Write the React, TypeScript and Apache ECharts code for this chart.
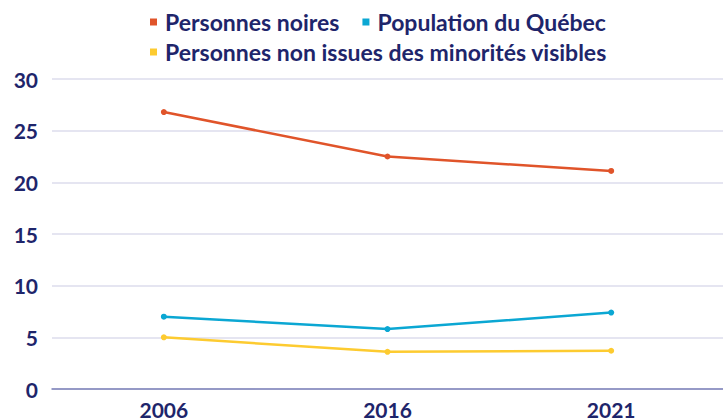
import React, { useEffect, useRef } from "react";
import * as echarts from "echarts";

const years = ["2006", "2016", "2021"];
const seriesNames = ["Personnes noires", "Population du Québec", "Personnes non issues des minorités visibles"];
const noires = [26.8, 22.5, 21.1];
const quebec = [7.0, 5.8, 7.4];
const nonMinorites = [5.0, 3.6, 3.7];
const colors = ["#E0542A", "#0BA7D3", "#FDCB30"];

const NAVY = "#1E256B";
const FONT = "Lato, 'Open Sans', sans-serif";

export default function App() {
  const ref = useRef<HTMLDivElement>(null);
  useEffect(() => {
    if (!ref.current) return;
    const chart = echarts.init(ref.current, undefined, { renderer: "svg" });
    const values = [noires, quebec, nonMinorites];
    chart.setOption({
      animation: false,
      color: colors,
      textStyle: { fontFamily: FONT },
      legend: {
        left: 150,
        top: 9,
        width: 480,
        padding: 0,
        itemWidth: 7,
        itemHeight: 7,
        itemGap: 4,
        icon: "rect",
        data: seriesNames,
        textStyle: {
          color: NAVY,
          fontSize: 23,
          fontWeight: "bold",
          fontFamily: FONT,
          lineHeight: 26,
          padding: [0, 19, 0, 3],
        },
      },
      grid: { left: 52, top: 79, bottom: 30, width: 673, containLabel: false },
      xAxis: {
        type: "category",
        data: years,
        boundaryGap: true,
        axisLine: { show: true, lineStyle: { color: "#7B80B8", width: 1.5 } },
        axisTick: { show: false },
        axisLabel: { color: NAVY, fontSize: 21, fontWeight: "bold", fontFamily: FONT, margin: 10 },
      },
      yAxis: {
        type: "value",
        min: 0,
        max: 30,
        interval: 5,
        axisLine: { show: false },
        axisTick: { show: false },
        splitLine: { lineStyle: { color: "#DCDCEC", width: 1.5 } },
        axisLabel: { color: NAVY, fontSize: 21, fontWeight: "bold", fontFamily: FONT, margin: 14 },
      },
      series: seriesNames.map((name, i) => ({
        name,
        type: "line",
        data: values[i],
        symbol: "circle",
        symbolSize: 6,
        lineStyle: { width: 2.5 },
      })),
    });
    return () => chart.dispose();
  }, []);
  return <div ref={ref} style={{ width: 723, height: 420, position: "absolute", left: 0, top: 0 }} />;
}
